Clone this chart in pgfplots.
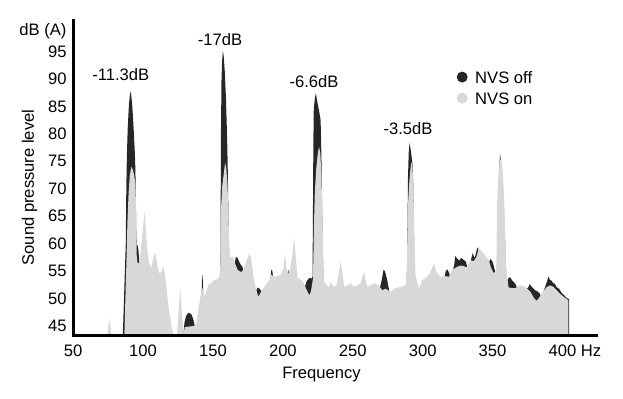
\documentclass[border=0pt]{standalone}
\usepackage{fontspec}
\setmainfont{Liberation Sans}
\usepackage{pgfplots}
\pgfplotsset{compat=1.18}
\definecolor{offc}{HTML}{262626}
\definecolor{onc}{HTML}{D8D8D8}
\newcommand\sz{\fontsize{16.6bp}{19.5bp}\selectfont}
\begin{document}
\begin{tikzpicture}
\path[use as bounding box] (-73.2bp,-63.7bp) rectangle (549.8bp,335.3bp);
\begin{axis}[
  at={(0,0)}, anchor=south west,
  scale only axis, width=522.8bp, height=314.6bp,
  xmin=50, xmax=424, ymin=43.3, ymax=100.6,
  axis x line*=bottom, axis y line*=left,
  axis line style={-, line width=3bp, line cap=rect},
  axis on top,
  xtick={50,100,...,400}, ytick={45,50,...,95},
  extra y ticks={98.6}, extra y tick labels={dB (A)},
  tick style={draw=none}, major tick length=0pt,
  /pgf/number format/assume math mode=true,
  ticklabel style={font=\sz},
  xticklabel style={anchor=base, yshift=-21.3bp},
  yticklabel style={anchor=east, inner sep=0pt, xshift=-6.5bp},
  legend style={at={(0.7332,0.8405)}, anchor=north west, draw=none, fill=none,
    inner sep=0pt, font=\sz, row sep=9bp, column sep=7.5bp,
    nodes={inner sep=0pt, text height=12bp, text depth=0bp}},
  legend cell align=left,
]
\addplot[draw=none, fill=offc, legend image code/.code={\fill[offc] (0bp,0bp) circle (5.5bp);}] coordinates {
(85.5,43.3) (87.6,60.0) (88.0,70.0) (88.4,76.0) (89.0,81.0) (89.8,85.0) (90.5,87.0) (91.1,87.7)
(91.6,86.8) (92.3,85.0) (93.2,81.0) (94.0,77.0) (94.5,73.5) (94.8,68.0) (95.1,62.5) (95.4,59.6)
(95.9,59.8) (96.6,59.0) (97.2,57.0) (97.8,55.0) (98.5,54.0) (106.0,54.0)
(112.0,53.0) (116.0,52.5) (117.3,49.5) (118.7,46.5) (120.9,43.3) (128.8,43.3) (129.6,45.6)
(130.7,46.8) (132.3,47.4) (134.4,47.2) (135.8,46.3) (136.8,45.2) (137.5,44.0) (138.0,44.5)
(140.1,47.5) (141.5,50.0) (141.9,51.0) (142.2,54.3) (142.6,54.0) (143.0,51.0) (143.7,49.5)
(146.5,51.5) (150.8,52.5) (154.4,52.9) (155.3,54.0) (155.5,66.0) (155.7,80.0) (156.1,90.0)
(156.6,93.5) (157.0,95.0) (157.6,94.3) (158.4,91.5) (159.2,87.0) (159.8,82.0) (160.3,77.0)
(160.6,73.0) (160.9,68.0) (161.3,61.0)
(161.7,57.0) (163.5,56.5) (165.0,55.8) (165.5,56.2) (166.3,57.6) (167.5,57.4) (169.5,56.3)
(171.0,55.8) (172.3,54.6) (176.0,57.0) (177.2,56.5) (179.6,52.0) (180.6,51.2) (181.3,51.7)
(182.0,52.0) (183.2,51.8) (184.3,51.5) (185.2,51.0) (189.1,52.0) (190.6,53.0) (191.2,53.9)
(191.8,55.3) (192.5,55.0) (193.0,53.8) (198.6,53.5) (202.0,54.0) (203.0,54.0) (203.8,55.3)
(204.3,54.6) (205.0,54.5) (210.5,52.8) (215.2,52.0) (216.0,52.3) (216.8,53.0) (218.0,53.5)
(219.5,53.8) (220.6,53.6) (221.2,54.0) (221.5,65.0) (221.8,78.0) (222.1,84.5) (222.9,86.5)
(223.6,87.4) (224.5,86.0) (226.0,84.0) (227.0,82.5) (227.3,79.0) (227.6,75.5) (227.9,70.0)
(228.3,62.0) (228.8,56.0) (229.3,52.0) (243.8,51.5) (253.3,51.8) (260.5,51.5) (268.5,51.8) (269.5,52.0)
(270.8,53.5) (272.0,55.2) (273.0,55.0) (274.5,53.5) (275.8,51.8) (276.5,50.8) (284.2,51.5)
(287.8,51.8) (288.8,55.0) (289.2,64.0) (289.5,72.0) (290.0,76.5) (290.6,78.3) (291.3,77.3)
(292.0,76.0) (292.7,74.5) (293.2,72.0) (293.5,67.0) (294.0,58.0) (294.6,53.5) (297.3,51.0) (303.2,53.0) (312.7,53.2)
(315.6,53.5) (315.8,54.0) (316.5,55.0) (317.7,55.3) (319.0,54.6) (319.8,54.0) (321.1,54.5)
(322.5,56.0) (323.3,57.7) (325.0,57.2) (326.3,56.9) (327.5,57.4) (329.5,57.0) (331.0,56.7)
(332.0,55.5) (334.1,56.5) (335.0,57.5) (335.8,58.3) (336.7,57.6) (337.3,57.4) (338.6,58.8)
(339.6,59.4) (340.1,58.6) (343.6,57.6) (347.2,56.5) (347.8,56.8) (348.5,57.2) (349.8,56.8)
(350.8,56.0) (351.7,55.0) (352.3,54.3) (353.0,54.5) (353.6,60.0) (354.6,72.0) (355.3,76.4)
(355.9,75.3) (356.3,74.0) (357.3,71.0) (359.0,60.0) (359.8,54.0) (360.3,52.8) (361.0,53.6)
(362.5,53.9) (364.0,53.3) (365.5,52.9) (366.7,52.5) (367.5,51.8) (373.4,51.5) (375.5,52.0)
(376.5,52.6) (378.5,52.0) (380.5,51.5) (382.0,51.3) (383.5,51.0) (384.5,50.5) (385.3,50.5)
(387.5,52.0) (388.8,53.0) (390.0,54.0) (391.0,53.4) (392.0,53.3) (393.3,52.8) (394.5,52.7)
(396.0,52.0) (397.5,51.8) (399.5,51.0) (401.5,50.5) (403.0,50.1) (404.8,49.9) (404.8,43.3)
} \closedcycle;
\addlegendentry{NVS off}
\addplot[draw=none, fill=onc, legend image code/.code={\fill[onc] (0bp,0bp) circle (5.5bp);}] coordinates {
(74.3,43.3) (75.9,46.4) (77.4,43.3) (86.6,43.3) (88.0,56.0) (88.8,64.0) (89.6,69.0) (90.5,72.5)
(91.6,74.0) (92.6,73.5) (93.6,72.5) (94.4,71.0) (94.9,67.5) (95.2,62.0) (95.4,58.0)
(95.9,56.6) (97.3,56.3) (98.7,59.7) (101.1,65.9) (102.7,59.7) (104.1,56.6)
(105.9,55.5) (107.3,57.4) (108.7,58.3) (110.2,56.1) (111.6,54.6) (113.0,54.8) (114.4,55.9)
(115.9,54.0) (117.3,50.6) (118.7,47.5) (120.9,44.2) (122.3,43.3) (124.2,43.3) (126.6,51.9)
(128.9,43.3) (129.8,44.8) (136.5,45.0) (138.0,45.5) (140.1,48.8) (141.5,51.1) (142.7,51.9)
(143.7,50.4) (145.1,51.1) (146.5,52.4) (148.7,52.8) (150.8,53.35) (152.9,53.5) (154.4,53.9)
(155.2,56.0) (155.6,62.0) (155.9,67.0) (156.6,70.5) (157.6,72.5) (158.7,74.8) (159.6,73.5)
(160.4,70.5) (161.0,66.0) (161.5,61.0)
(161.7,58.3) (162.9,57.4) (164.2,57.7) (165.4,56.6) (167.7,55.2) (170.1,54.8)
(171.5,55.2) (173.6,56.6) (176.0,58.2) (177.2,57.4) (179.6,53.0) (180.8,51.8) (182.4,50.3)
(184.3,51.2) (186.7,52.1) (189.1,53.0) (190.3,53.35) (191.5,54.4) (192.9,54.1) (195.0,54.0)
(198.6,54.3) (200.4,55.5) (201.5,58.2) (202.5,55.5) (203.6,54.4) (205.0,55.2) (206.8,57.9)
(208.1,61.0) (209.3,57.4) (210.5,53.7) (212.9,53.35) (215.2,52.75) (216.4,51.9) (218.8,50.6)
(220.0,51.2) (221.4,53.35) (221.8,57.0) (222.2,63.0) (222.8,69.0) (223.8,73.5) (225.0,76.5)
(225.9,77.65) (226.8,76.5) (227.6,72.0) (228.2,66.0) (228.7,60.0) (229.1,55.0) (229.6,53.0)
(231.4,52.4) (233.1,52.1) (234.3,53.0) (236.6,52.1)
(238.6,52.6) (240.3,55.2) (241.4,56.7) (242.5,54.8) (243.8,52.1) (246.4,52.4) (248.5,52.75)
(250.7,52.1) (253.3,52.4) (255.7,52.8) (257.1,54.1) (258.0,54.9) (259.2,53.35) (260.5,52.1)
(262.8,52.4) (265.7,52.8) (268.5,52.4) (271.1,51.5) (273.5,51.8) (277.1,51.2) (280.6,51.9)
(284.2,52.1) (287.8,52.4) (288.6,55.5) (289.2,63.0) (289.7,68.0) (290.5,71.5) (291.4,74.0)
(292.1,74.9) (292.8,73.5) (293.4,70.0) (293.9,64.0) (294.4,58.0)
(294.9,54.3) (297.3,51.8) (299.7,53.35) (303.2,53.96) (305.6,54.8)
(308.0,56.4) (309.9,54.8) (312.7,53.96) (315.6,54.1) (318.7,53.96) (321.1,55.2) (324.7,55.8)
(327.7,56.0) (331.8,55.7) (334.1,57.0) (336.5,56.8) (338.5,57.6) (340.1,59.1) (343.6,58.2)
(347.2,57.0) (349.1,55.5) (350.8,54.6) (352.7,55.2) (353.0,62.0) (353.4,68.0) (354.2,72.5)
(355.2,75.0) (356.0,75.5) (356.8,74.5) (357.8,71.0) (358.6,66.0) (359.3,60.0)
(359.8,55.2) (361.5,52.0) (364.1,51.9) (366.2,51.9) (369.8,52.4)
(373.4,52.1) (376.9,51.3) (379.8,50.0) (381.7,49.6) (383.5,50.2) (385.3,51.0) (388.8,52.1)
(391.2,52.4) (393.6,52.1) (397.0,51.2) (399.5,50.6) (401.9,50.1) (404.2,49.7) (404.2,43.3)
} \closedcycle;
\addlegendentry{NVS on}
\end{axis}
\node[font=\sz, anchor=base] at (248.3bp,-42.9bp) {Frequency};
\node[font=\sz, anchor=base] at (517.8bp,-21.3bp) {Hz};
\node[font=\sz, anchor=base, rotate=90] at (-39.2bp,147.8bp) {Sound pressure level};
\node[font=\sz, anchor=base] at (47.6bp,254.6bp) {-11.3dB};
\node[font=\sz, anchor=base] at (146.8bp,289.6bp) {-17dB};
\node[font=\sz, anchor=base] at (240.8bp,248.0bp) {-6.6dB};
\node[font=\sz, anchor=base] at (334.8bp,201.0bp) {-3.5dB};
\end{tikzpicture}
\end{document}
